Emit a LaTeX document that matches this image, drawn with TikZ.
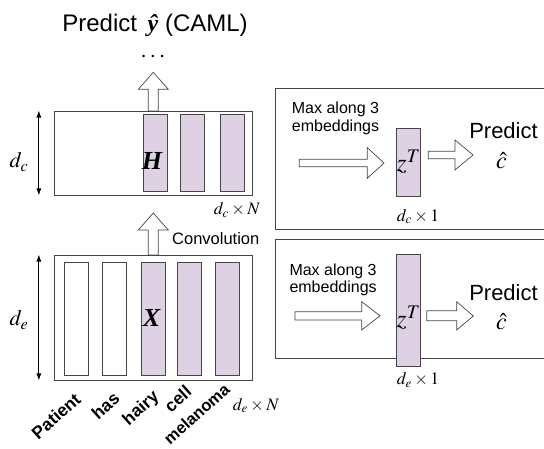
\documentclass[tikz,border=0pt]{standalone}
\usepackage{mathptmx}
\usepackage[no-math]{fontspec}
\setmainfont{Liberation Sans}
\newfontfamily\tmfont{Liberation Serif}
\usetikzlibrary{arrows.meta}
\definecolor{lav}{RGB}{221,209,227}
\definecolor{edgegray}{RGB}{70,70,70}
\newcommand{\fs}[1]{\fontsize{#1}{#1}\selectfont}
\begin{document}
\begin{tikzpicture}[x=1pt,y=-1pt,
  bigbox/.style={draw=edgegray, line width=0.9pt, fill=white, inner sep=0pt},
  lavcol/.style={draw=edgegray, line width=0.8pt, fill=lav, inner sep=0pt, minimum width=24pt},
  whitecol/.style={draw=edgegray, line width=0.8pt, fill=white, inner sep=0pt, minimum width=24pt},
  blockarrow/.style={draw=edgegray, line width=0.7pt, fill=white, line join=miter},
  dimarrow/.style={{Latex[length=7pt,width=5pt]}-{Latex[length=7pt,width=5pt]}, line width=0.8pt, black},
  frameline/.style={draw=edgegray, line width=1pt},
  mlabel/.style={inner sep=0pt},
  maxtext/.style={inner sep=0pt, anchor=north west, align=left, font=\fontsize{16}{17.7}\selectfont},
  word/.style={font=\fs{17.5}\bfseries, rotate=42, anchor=base east, inner sep=0pt}]
\useasboundingbox (0,0) rectangle (544,449);

% title
\node[mlabel] (title) at (155,25) {\fs{24}Predict\, {\tmfont\bfseries\itshape ŷ} (CAML)};
\node[mlabel] (dots) at (153,57) {\fs{24}$\cdots$};

% top matrix H
\node[bigbox, minimum width=198pt, minimum height=84pt] (hbox) at (153.3,153) {};
\node[lavcol, minimum height=77.4pt] (h1) at (155.3,153) {};
\node[lavcol, minimum height=77.4pt] (h2) at (192.85,153) {};
\node[lavcol, minimum height=77.4pt] (h3) at (232.3,153) {};
\node[mlabel] (hlab) at (152,161) {\fs{26}\tmfont\bfseries\itshape H};
\node[mlabel] (hdim) at (237,210) {\fs{17.5}$d_c\times N$};
\draw[dimarrow] ([xshift=-15pt]hbox.north west) -- ([xshift=-15pt]hbox.south west);
\node[mlabel] (dclab) at (19,162) {\fs{22}$d_c$};

% arrow up to dots
\draw[blockarrow] (148.3,111) -- (148.3,89.3) -- (138.3,89.3) -- (153.3,72.3) -- (168.3,89.3) -- (158.3,89.3) -- (158.3,111) -- cycle;

% bottom matrix X
\node[bigbox, minimum width=198pt, minimum height=125pt] (xbox) at (153.3,317.5) {};
\node[whitecol, minimum height=113.4pt] (x1) at (76.3,319) {};
\node[whitecol, minimum height=113.4pt] (x2) at (114,319) {};
\node[lavcol, minimum height=113.4pt] (x3) at (153.7,319) {};
\node[lavcol, minimum height=113.4pt] (x4) at (189.7,319) {};
\node[lavcol, minimum height=113.4pt] (x5) at (227.2,319) {};
\node[mlabel] (xlab) at (151.5,317.5) {\fs{26}\tmfont\bfseries\itshape X};
\node[mlabel] (xdim) at (256,405.7) {\fs{17.5}$d_e\times N$};
\draw[dimarrow] ([xshift=-15pt]xbox.north west) -- ([xshift=-15pt]xbox.south west);
\node[mlabel] (delab) at (19,320) {\fs{22}$d_e$};

% convolution arrow
\draw[blockarrow] (148.3,255) -- (148.3,230) -- (138.3,230) -- (153.3,213) -- (168.3,230) -- (158.3,230) -- (158.3,255) -- cycle;
\node[mlabel, anchor=west] (conv) at (172,239) {\fs{16.5}Convolution};

% words
\node[word] (w1) at (82,401) {Patient};
\node[word] (w2) at (121,400) {has};
\node[word] (w3) at (160,398) {hairy};
\node[word] (w4) at (193,393.5) {cell};
\node[word, font=\fs{16.5}\bfseries] (w5) at (231,391) {melanoma};

% right top panel
\draw[frameline] (544,88.3) -- (275,88.3) -- (275,230) -- (544,230);
\node[maxtext] (max1) at (291.7,101.6) {Max along 3\\embeddings};
\draw[blockarrow] (299.3,159.3) -- (367.3,159.3) -- (367.3,147.7) -- (384,163) -- (367.3,178.3) -- (367.3,166.7) -- (299.3,166.7) -- cycle;
\node[lavcol, minimum height=67.7pt] (z1) at (408,162.15) {};
\node[mlabel, anchor=base west] (z1lab) at (396.5,171.7) {\fs{26}$z^T$};
\node[mlabel] (z1dim) at (418,216.7) {\fs{17.5}$d_c\times 1$};
\draw[blockarrow] (428.3,151.3) -- (455,151.3) -- (455,140) -- (473,155) -- (455,170) -- (455,158.7) -- (428.3,158.7) -- cycle;
\node[mlabel] (p1) at (503.5,130.5) {\fs{22}Predict};
\node[mlabel] (c1) at (501.5,161) {\fs{24}$\hat{c}$};

% right bottom panel
\draw[frameline] (544,240) -- (275,240) -- (275,358.3) -- (544,358.3);
\node[maxtext] (max2) at (289.3,263.3) {Max along 3\\embeddings};
\draw[blockarrow] (295,311.7) -- (361.7,311.7) -- (361.7,301.7) -- (380,315.8) -- (361.7,330) -- (361.7,320) -- (295,320) -- cycle;
\node[lavcol, minimum height=112.7pt] (z2) at (408,310.35) {};
\node[mlabel, anchor=base west] (z2lab) at (396.5,328) {\fs{26}$z^T$};
\node[mlabel] (z2dim) at (418,380) {\fs{17.5}$d_e\times 1$};
\draw[blockarrow] (426.7,310.7) -- (456.7,310.7) -- (456.7,301.7) -- (473.3,316) -- (456.7,330) -- (456.7,320.7) -- (426.7,320.7) -- cycle;
\node[mlabel] (p2) at (503.5,292.5) {\fs{22}Predict};
\node[mlabel] (c2) at (501.5,321.5) {\fs{24}$\hat{c}$};
\end{tikzpicture}
\end{document}
